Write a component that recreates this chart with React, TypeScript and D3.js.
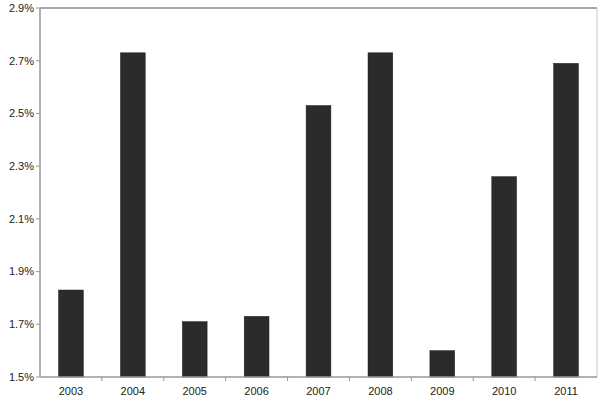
import React from "react";
import * as d3 from "d3";

const years = ["2003", "2004", "2005", "2006", "2007", "2008", "2009", "2010", "2011"];
const values = [1.83, 2.73, 1.71, 1.73, 2.53, 2.73, 1.6, 2.26, 2.69];
const yTicks = [1.5, 1.7, 1.9, 2.1, 2.3, 2.5, 2.7, 2.9];

const W = 600, H = 405;
const L = 40, R = 597, T = 8, B = 377;

export default function App() {
  const x = d3.scaleBand<string>().domain(years).range([L, R]).paddingInner(0.6).paddingOuter(0.3);
  const xb = d3.scaleBand<string>().domain(years).range([L, R]);
  const y = d3.scaleLinear().domain([1.5, 2.9]).range([B, T]);
  const font = "Liberation Sans, Arial, sans-serif";
  return (
    <svg width={W} height={H} style={{ position: "absolute", left: 0, top: 0, background: "#fff" }}>
      <rect x={0} y={0} width={W} height={H} fill="#fff" />
      <line x1={L} x2={R} y1={T} y2={T} stroke="#8a8a8a" strokeWidth={1.5} />
      <line x1={R} x2={R} y1={T} y2={B} stroke="#c8c8c8" strokeWidth={1} />
      {years.map((yr, i) => (
        <rect key={yr} x={x(yr)} y={y(values[i])} width={x.bandwidth()} height={B - y(values[i])}
          fill="#2b2b2b" stroke="#1a1a1a" strokeWidth={0.5} />
      ))}
      <line x1={L} x2={L} y1={T} y2={B} stroke="#999" strokeWidth={1.5} />
      <line x1={L} x2={R} y1={B} y2={B} stroke="#999" strokeWidth={1.5} />
      {yTicks.map((t) => (
        <g key={t}>
          <line x1={L - 4} x2={L} y1={y(t)} y2={y(t)} stroke="#999" />
          <text x={L - 6} y={y(t)} dy="0.35em" textAnchor="end" fontFamily={font} fontSize={11} fill="#222">
            {t.toFixed(1)}%
          </text>
        </g>
      ))}
      {years.slice(1).map((yr) => (
        <line key={yr} x1={xb(yr)} x2={xb(yr)} y1={B} y2={B + 4} stroke="#999" />
      ))}
      {years.map((yr) => (
        <text key={yr} x={(xb(yr) as number) + xb.bandwidth() / 2} y={B + 18} textAnchor="middle"
          fontFamily={font} fontSize={11} fill="#222">
          {yr}
        </text>
      ))}
    </svg>
  );
}
